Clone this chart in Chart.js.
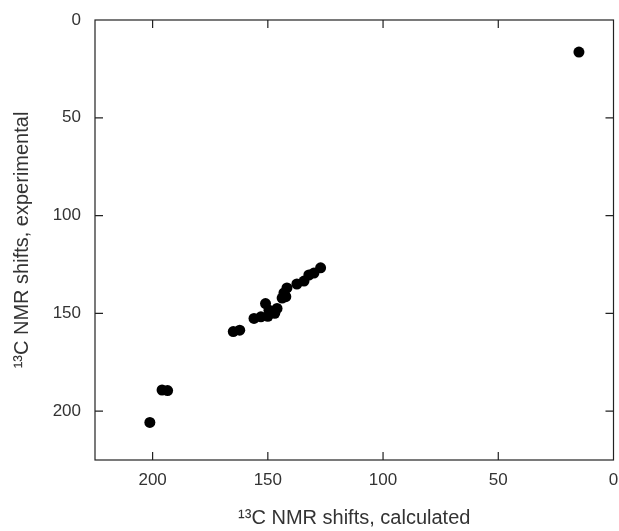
<!DOCTYPE html>
<html>
<head>
<meta charset="utf-8">
<script src="https://cdn.jsdelivr.net/npm/chart.js@4.4.0/dist/chart.umd.min.js"></script>
<style>
  html, body { margin: 0; padding: 0; background: #fff; }
  #wrap { width: 619px; height: 531px; }
</style>
</head>
<body>
<div id="wrap"><canvas id="nmrChart" width="619" height="531"></canvas></div>
<script>
// 13C shifts
const calculated = [201.2, 195.9, 193.5, 165.0, 162.2, 156.0, 153.0, 151.0, 150.0, 149.5, 147.0, 146.0,
  143.8, 142.2, 143.0, 141.7, 137.4, 134.3, 132.2, 130.0, 127.1, 15.0];
const experimental = [205.8, 189.2, 189.5, 159.3, 158.6, 152.6, 151.8, 145.0, 151.5, 148.4, 150.0, 147.5,
  142.2, 141.5, 139.6, 137.0, 135.0, 133.5, 130.4, 129.4, 126.7, 16.4];
const tickValues = [0, 50, 100, 150, 200];

const points = calculated.map((x, i) => ({ x: x, y: experimental[i] }));

const FONT = 'Liberation Sans, Arial, sans-serif';
const LINE = '#222';

// frame plus inward tick marks on all four sides
const framePlugin = {
  id: 'frame',
  afterDraw(chart) {
    const { ctx, chartArea: a, scales } = chart;
    const len = 8;
    ctx.save();
    ctx.strokeStyle = LINE;
    ctx.lineWidth = 1.2;
    ctx.strokeRect(a.left, a.top, a.right - a.left, a.bottom - a.top);
    ctx.beginPath();
    tickValues.forEach(v => {
      const px = scales.x.getPixelForValue(v);
      if (px > a.left + 1 && px < a.right - 1) {
        ctx.moveTo(px, a.bottom); ctx.lineTo(px, a.bottom - len);
        ctx.moveTo(px, a.top); ctx.lineTo(px, a.top + len);
      }
      const py = scales.y.getPixelForValue(v);
      if (py > a.top + 1 && py < a.bottom - 1) {
        ctx.moveTo(a.left, py); ctx.lineTo(a.left + len, py);
        ctx.moveTo(a.right, py); ctx.lineTo(a.right - len, py);
      }
    });
    ctx.stroke();
    ctx.restore();
  }
};

new Chart(document.getElementById('nmrChart').getContext('2d'), {
  type: 'scatter',
  data: {
    datasets: [{
      data: points,
      backgroundColor: '#000',
      borderWidth: 0,
      pointRadius: 5.5,
      pointHoverRadius: 5.5
    }]
  },
  options: {
    responsive: false,
    animation: false,
    layout: { padding: { top: 20, right: 5, left: 0, bottom: 0 } },
    plugins: { legend: { display: false }, tooltip: { enabled: false } },
    scales: {
      x: {
        type: 'linear',
        reverse: true,
        min: 0,
        max: 225,
        afterBuildTicks: s => { s.ticks = tickValues.map(v => ({ value: v })); },
        afterFit: s => { s.height = 71; },
        grid: { display: false, drawTicks: false },
        border: { display: false },
        ticks: { padding: 10, color: '#333', font: { family: FONT, size: 17 } },
        title: {
          display: true,
          text: '¹³C NMR shifts, calculated',
          color: '#333',
          font: { family: FONT, size: 20 },
          padding: { top: 0, bottom: 1 }
        }
      },
      y: {
        type: 'linear',
        reverse: true,
        min: 0,
        max: 225,
        afterBuildTicks: s => { s.ticks = tickValues.map(v => ({ value: v })); },
        afterFit: s => { s.width = 95; s.paddingTop = 0; s.paddingBottom = 0; },
        grid: { display: false, drawTicks: false },
        border: { display: false },
        ticks: { padding: 14, color: '#333', font: { family: FONT, size: 17 } },
        title: {
          display: true,
          text: '¹³C NMR shifts, experimental',
          color: '#333',
          font: { family: FONT, size: 20 },
          padding: { top: 10, bottom: 0 }
        }
      }
    }
  },
  plugins: [framePlugin]
});
</script>
</body>
</html>
